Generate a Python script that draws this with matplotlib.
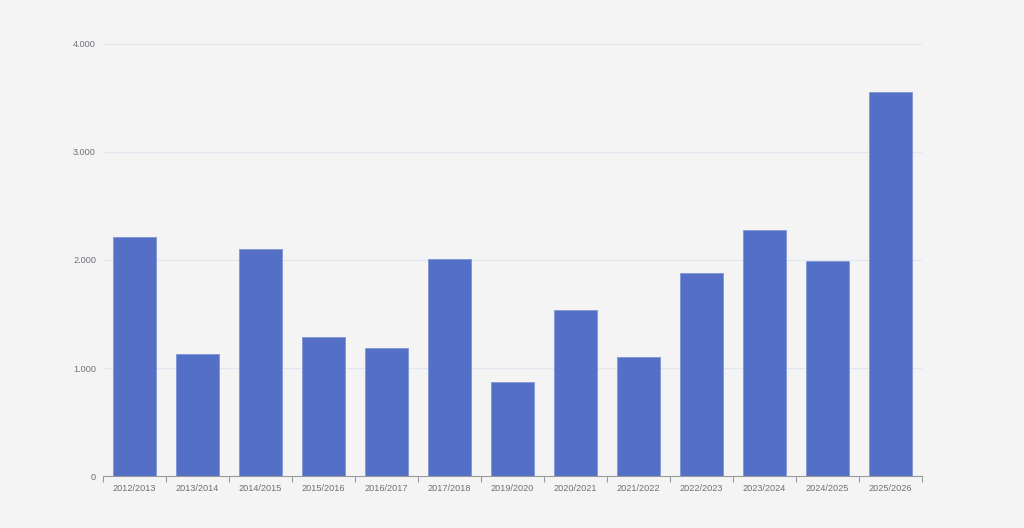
import numpy as np
import matplotlib

matplotlib.use("Agg")
import matplotlib.pyplot as plt
from matplotlib.ticker import FuncFormatter, FixedLocator

seasons = ["2012/2013", "2013/2014", "2014/2015", "2015/2016", "2016/2017",
           "2017/2018", "2019/2020", "2020/2021", "2021/2022", "2022/2023",
           "2023/2024", "2024/2025", "2025/2026"]
values = [2215, 1132, 2100, 1290, 1183, 2006, 870, 1537, 1105, 1883,
          2275, 1994, 3553]
y_ticks = [0, 1000, 2000, 3000, 4000]

BG = "#f4f4f4"
BAR = "#5470c6"
TXT = "#6e7079"
AXIS = "#9a9a9a"
GRID = "#e0e6f1"

plt.rcParams["font.family"] = ["Liberation Sans", "DejaVu Sans"]

fig = plt.figure(figsize=(10.24, 5.28), dpi=100, facecolor=BG)
ax = fig.add_axes([103 / 1024, 1 - 476 / 528, 819 / 1024, 432 / 528])
ax.set_facecolor(BG)

x = np.arange(len(seasons))
ax.bar(x, values, width=0.69, color=BAR, edgecolor="#7f95d6", linewidth=0.6, zorder=3)

ax.set_xlim(-0.5, len(seasons) - 0.5)
ax.set_ylim(0, 4000)
ax.set_yticks(y_ticks)
ax.yaxis.set_major_formatter(FuncFormatter(lambda v, p: f"{int(v):,}".replace(",", ".")))
ax.grid(axis="y", color=GRID, linewidth=0.8, zorder=0)

ax.set_xticks(x)
ax.set_xticklabels(seasons)
ax.xaxis.set_minor_locator(FixedLocator(np.arange(-0.5, len(seasons), 1.0)))
ax.tick_params(axis="x", which="major", length=0, pad=6, labelsize=6.6, labelcolor=TXT)
ax.tick_params(axis="x", which="minor", length=4, width=0.8, color=AXIS)
ax.tick_params(axis="y", length=0, pad=5, labelsize=6.6, labelcolor=TXT)

for s in ["top", "right", "left"]:
    ax.spines[s].set_visible(False)
ax.spines["bottom"].set_color(AXIS)
ax.spines["bottom"].set_linewidth(0.8)
ax.spines["bottom"].set_zorder(4)

fig.savefig("out.png", dpi=100, facecolor=BG)
